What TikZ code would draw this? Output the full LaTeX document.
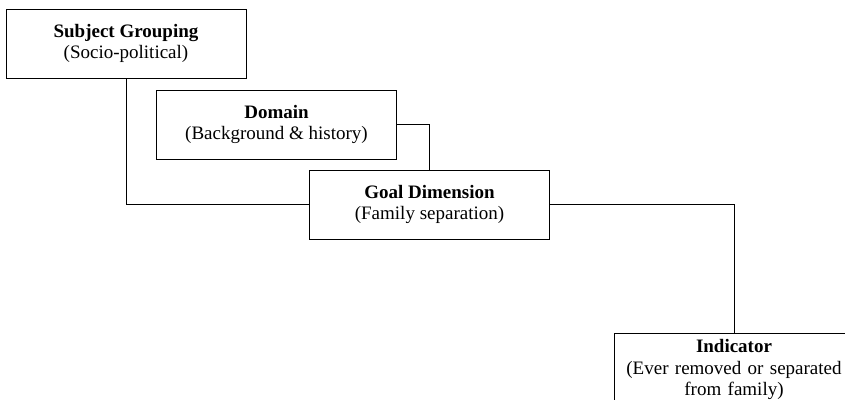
\documentclass[tikz,border=0pt]{standalone}
\usepackage{fontspec}
\setmainfont{Liberation Serif}
\usetikzlibrary{calc,positioning}
\tikzstyle{level} = [rectangle, draw=black, line width=0.8pt, minimum width=240pt, minimum height=69pt, inner ysep=6pt, align=center, font=\fontsize{19}{21.5}\selectfont]
\tikzstyle{link} = [line width=0.8pt]

\begin{document}
\begin{tikzpicture}[x=1pt,y=-1pt]
	%% page frame (the last box runs off the edge)
	\useasboundingbox (0,0) rectangle (845,399);
	\clip (0,0) rectangle (845,399);

	%% the four levels, stepping down to the right
	\node[level] (grouping) at (126,43.5) {\textbf{Subject Grouping}\\(Socio-political)};
	\node[level] (domain) at (276.5,124.5) {\textbf{Domain}\\(Background \& history)};
	\node[level] (goal) at (429.5,204.5) {\textbf{Goal Dimension}\\(Family separation)};
	\node[level, anchor=north, text width=232pt] (indicator) at (734,333)
		{\textbf{Indicator}\\(Ever removed or separated\\from family)};

	%% elbow connectors
	\draw[link] (grouping.south) |- (goal.west);
	\draw[link] (domain.east) -| (goal.north);
	\draw[link] (goal.east) -| (indicator.north);
\end{tikzpicture}
\end{document}
